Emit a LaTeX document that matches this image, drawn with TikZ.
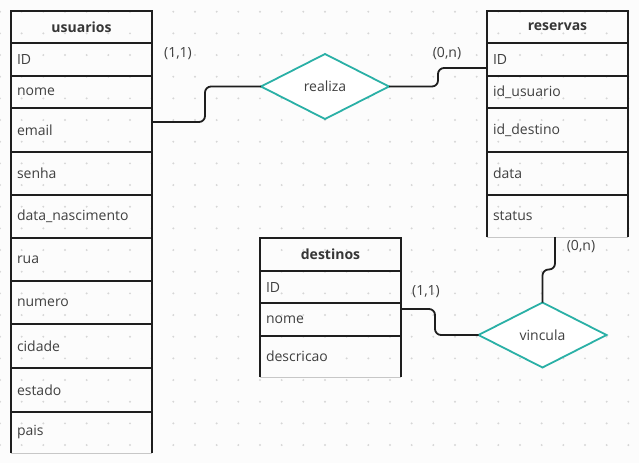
\documentclass[tikz,border=0pt]{standalone}
\usepackage{fontspec}
\setmainfont{Open Sans}
\usetikzlibrary{shapes.geometric}
\definecolor{ink}{HTML}{404040}
\definecolor{edgecol}{HTML}{1E1E1E}
\definecolor{relcol}{HTML}{2AB0A6}
\definecolor{griddot}{HTML}{D6D6D6}
\definecolor{paper}{HTML}{FCFCFC}
\begin{document}
\begin{tikzpicture}[x=1pt,y=-1pt,
  font=\fontsize{14}{16}\selectfont,
  cell/.style={draw=edgecol, line width=1.8pt, outer sep=0pt, minimum width=141pt, inner xsep=6pt,
    inner ysep=0pt, text width=129pt, align=left, text=ink, anchor=north west},
  opencell/.style={cell, draw=none},
  head/.style={cell, align=center, font=\fontsize{14}{16}\selectfont\bfseries, text=ink!85!black},
  rel/.style={diamond, draw=relcol, line width=1.8pt, outer sep=0pt, fill=white, minimum width=128pt,
    minimum height=65pt, inner sep=0pt, text=ink},
  conn/.style={draw=edgecol, line width=1.8pt, rounded corners=6pt},
  card/.style={text=ink, inner sep=0pt},
  sides/.style={draw=edgecol, line width=1.8pt},
  tailline/.style={draw=black!22, line width=1pt}]

% canvas and dotted grid
\fill[paper] (0,0) rectangle (639,463);
\useasboundingbox (0,0) rectangle (639,463);
\foreach \i in {0,...,29}
  \foreach \j in {0,...,20}
    \fill[griddot] (\i*21.667, 11.7+\j*21.667) circle (1.1pt);

% table: usuarios
\node[head, minimum height=32pt] (u0) at (11,11) {usuarios};
\node[cell, minimum height=33pt] (u1) at (11,43) {ID};
\node[cell, minimum height=32pt] (u2) at (11,76) {nome};
\node[cell, minimum height=44pt] (u3) at (11,108) {email};
\node[cell, minimum height=43pt] (u4) at (11,152) {senha};
\node[cell, minimum height=43pt] (u5) at (11,195) {data\_nascimento};
\node[cell, minimum height=43pt] (u6) at (11,238) {rua};
\node[cell, minimum height=43pt] (u7) at (11,281) {numero};
\node[cell, minimum height=44pt] (u8) at (11,324) {cidade};
\node[cell, minimum height=44pt] (u9) at (11,368) {estado};
\node[opencell, minimum height=41pt] (u10) at (11,412) {pais};
\draw[tailline] (u10.south west) -- (u10.south east);
\draw[sides] (u10.south west) -- (u10.north west) -- (u10.north east) -- (u10.south east);

% table: reservas
\node[head, minimum height=32pt] (r0) at (487,11) {reservas};
\node[cell, minimum height=33pt] (r1) at (487,43) {ID};
\node[cell, minimum height=32pt] (r2) at (487,76) {id\_usuario};
\node[cell, minimum height=44pt] (r3) at (487,108) {id\_destino};
\node[cell, minimum height=43pt] (r4) at (487,152) {data};
\node[opencell, minimum height=42pt] (r5) at (487,195) {status};
\draw[tailline] (r5.south west) -- (r5.south east);
\draw[sides] (r5.south west) -- (r5.north west) -- (r5.north east) -- (r5.south east);

% table: destinos
\node[head, minimum height=33pt] (d0) at (260,238) {destinos};
\node[cell, minimum height=32pt] (d1) at (260,271) {ID};
\node[cell, minimum height=33pt] (d2) at (260,303) {nome};
\node[opencell, minimum height=41pt] (d3) at (260,336) {descricao};
\draw[tailline] (d3.south west) -- (d3.south east);
\draw[sides] (d3.south west) -- (d3.north west) -- (d3.north east) -- (d3.south east);

% relationships
\node[rel] (realiza) at (325,86.5) {realiza};
\node[rel] (vincula) at (542.5,335) {vincula};

% connectors
\draw[conn] ([yshift=8pt]u3.east) -- ++(53,0) |- (realiza.west);
\draw[conn] (realiza.east) -- ++(49,0) |- ([yshift=-8.5pt]r1.west);
\draw[conn] (vincula.north) -- ++(0,-33) -| ([xshift=-2.5pt]r5.south);
\draw[conn] ([yshift=10.5pt]d2.east) -- ++(34,0) |- (vincula.west);

% cardinalities
\node[card] (c1) at (178,54) {(1,1)};
\node[card] (c2) at (447,54) {(0,n)};
\node[card] (c3) at (581,247) {(0,n)};
\node[card] (c4) at (426,292) {(1,1)};
\end{tikzpicture}
\end{document}
